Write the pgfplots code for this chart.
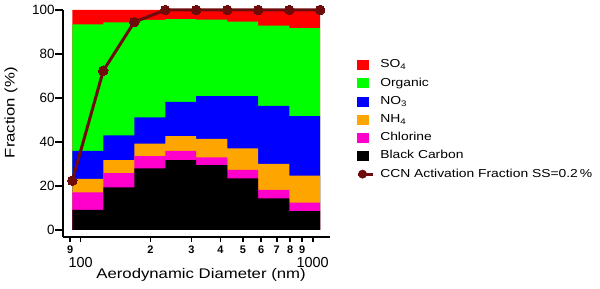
\documentclass[border=0pt]{standalone}
\usepackage{fontspec}
\setmainfont{Liberation Sans}
\newfontfamily\widefont{Liberation Sans}[FakeStretch=1.2]
\usepackage{pgfplots}
\pgfplotsset{compat=1.18}
\definecolor{ccn}{RGB}{110,12,12}
\definecolor{org}{RGB}{0,255,0}
\definecolor{cl}{RGB}{255,0,204}
\definecolor{nh}{RGB}{255,165,0}
\begin{document}
\begin{tikzpicture}[x=1bp,y=1bp]
\useasboundingbox (0,0) rectangle (600,288);
\begin{axis}[
 at={(63bp,51bp)}, anchor=south west,
 scale only axis, width=267bp, height=227bp,
 xmode=log, xmin=83.9, xmax=1187.5, ymin=-3.2, ymax=100,
 axis lines=left, axis line style={-, line width=1.6bp},
 clip=false,
 /pgf/number format/assume math mode=true,
 xtick={90,200,300,400,500,600,700,800,900},
 xticklabels={9,2,3,4,5,6,7,8,9},
 xticklabel style={font=\bfseries\fontsize{11}{11}\selectfont},
 extra x ticks={100,1000}, extra x tick labels={100,1000},
 extra x tick style={xticklabel style={font=\mdseries\fontsize{14.5}{14.5}\selectfont, yshift=-12bp}},
 xminorticks=false,
 ytick={0,20,40,60,80,100},
 yticklabel style={font=\fontsize{13.5}{13.5}\selectfont},
 tick align=outside, major tick length=5bp,
 y tick style={/pgfplots/major tick length=8bp},
 every tick/.style={black, line width=1.6bp},
 xlabel={Aerodynamic Diameter (nm)},
 xlabel style={at={(axis description cs:0.517,0)}, anchor=center, yshift=-37.5bp, font=\widefont\fontsize{14}{14}\selectfont},
 ylabel={Fraction (\%)},
 ylabel style={at={(axis description cs:-0.195,0.548)}, anchor=center, font=\widefont\fontsize{14}{14}\selectfont},
 legend style={draw=none, fill=none, at={(axis description cs:1.0875,0.803)}, anchor=north west,
   font=\widefont\fontsize{11.6}{13}\selectfont, row sep=2.2bp,
   nodes={inner sep=2bp, text height=9bp, text depth=3bp}},
 legend cell align=left,
]
% cumulative tops of the stacked fractions, drawn from the top layer down
% SO4
\addplot[const plot, fill=red, draw=none, forget plot] coordinates {(92.0,100) (125.1,100) (170.2,100) (231.5,100) (314.8,100) (428.5,100) (582.1,100) (792.5,100) (1076,100)} \closedcycle;
% Organic
\addplot[const plot, fill=org, draw=none, forget plot] coordinates {(92.0,93.5) (125.1,94.4) (170.2,95.5) (231.5,95.9) (314.8,95.6) (428.5,94.7) (582.1,92.9) (792.5,91.8) (1076,91.8)} \closedcycle;
% NO3
\addplot[const plot, fill=blue, draw=none, forget plot] coordinates {(92.0,36.0) (125.1,43.0) (170.2,51.2) (231.5,58.2) (314.8,60.9) (428.5,60.9) (582.1,56.4) (792.5,51.8) (1076,51.8)} \closedcycle;
% NH4
\addplot[const plot, fill=nh, draw=none, forget plot] coordinates {(92.0,23.2) (125.1,31.8) (170.2,39.2) (231.5,42.7) (314.8,41.4) (428.5,37.1) (582.1,30.0) (792.5,24.7) (1076,24.7)} \closedcycle;
% Chlorine
\addplot[const plot, fill=cl, draw=none, forget plot] coordinates {(92.0,17.1) (125.1,25.8) (170.2,33.6) (231.5,35.9) (314.8,33.0) (428.5,27.3) (582.1,18.2) (792.5,12.4) (1076,12.4)} \closedcycle;
% Black Carbon
\addplot[const plot, fill=black, draw=none, forget plot] coordinates {(92.0,9.1) (125.1,19.4) (170.2,28.0) (231.5,31.8) (314.8,29.5) (428.5,23.5) (582.1,14.4) (792.5,8.6) (1076,8.6)} \closedcycle;
% CCN activation fraction
\addplot[color=ccn, line width=3bp, mark=*, mark size=4.8bp, mark options={fill=ccn, draw=ccn, line width=0pt}, forget plot] coordinates {(92.0,22.4) (125.1,72.4) (170.2,94.5) (231.5,100) (314.8,100) (428.5,100) (582.1,100) (792.5,100) (1076,100)};
\addlegendimage{legend image code/.code={\fill[red] (0bp,-4.5bp) rectangle (11bp,4.5bp); \path (21bp,0bp);}}
\addlegendentry{SO\textsubscript{4}}
\addlegendimage{legend image code/.code={\fill[org] (0bp,-4.5bp) rectangle (11bp,4.5bp); \path (21bp,0bp);}}
\addlegendentry{Organic}
\addlegendimage{legend image code/.code={\fill[blue] (0bp,-4.5bp) rectangle (11bp,4.5bp); \path (21bp,0bp);}}
\addlegendentry{NO\textsubscript{3}}
\addlegendimage{legend image code/.code={\fill[nh] (0bp,-4.5bp) rectangle (11bp,4.5bp); \path (21bp,0bp);}}
\addlegendentry{NH\textsubscript{4}}
\addlegendimage{legend image code/.code={\fill[cl] (0bp,-4.5bp) rectangle (11bp,4.5bp); \path (21bp,0bp);}}
\addlegendentry{Chlorine}
\addlegendimage{legend image code/.code={\fill[black] (0bp,-4.5bp) rectangle (11bp,4.5bp); \path (21bp,0bp);}}
\addlegendentry{Black Carbon}
\addlegendimage{legend image code/.code={\draw[ccn, line width=3bp] (1bp,0bp) -- (16bp,0bp); \fill[ccn] (5.5bp,0bp) circle (4.2bp); \path (21bp,0bp);}}
\addlegendentry{CCN Activation Fraction SS=0.2\,\%}
\end{axis}
\end{tikzpicture}
\end{document}
